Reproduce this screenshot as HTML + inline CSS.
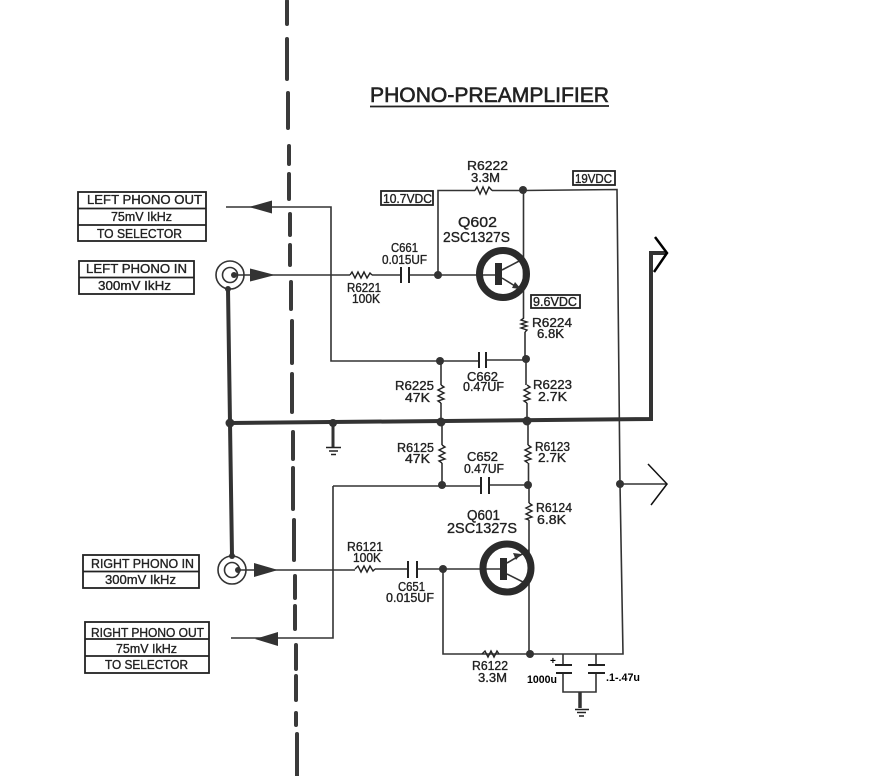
<!DOCTYPE html>
<html>
<head>
<meta charset="utf-8">
<style>
html,body{margin:0;padding:0;background:#fff}
svg{display:block}
text{font-family:"Liberation Sans",sans-serif;fill:#222;font-size:12.5px;stroke:#222;stroke-width:.35}
.l{fill:none;stroke:#333;stroke-width:1.6}
.t{fill:none;stroke:#333;stroke-width:4}
.z{fill:none;stroke:#222;stroke-width:1.4}
.b{fill:none;stroke:#222;stroke-width:1.8}
.d{fill:none;stroke:#3a3a3a;stroke-width:4;stroke-linecap:round}
.n{fill:#333}
.a{fill:#333}
.k{fill:none;stroke:#111;stroke-width:1.5}
.c{fill:none;stroke:#222;stroke-width:2}
.v{fill:none;stroke:#000;stroke-width:2.5}
</style>
</head>
<body>
<svg width="878" height="776" viewBox="0 0 878 776" xmlns="http://www.w3.org/2000/svg">
<rect width="878" height="776" fill="#fff"/>

<!-- dashed divider -->
<g class="d">
<path d="M287 1V24M287 39V79M288 93V128M289 146V164M289 174V199M290 214V235M290 245V265M291 282V309M292 321V363M292 374V412M293 432V459M293 468V509M294 520V560M295 576V598M295 606V629M296 645V669M296 676V700M296 713V725M297 734V776"/>
</g>

<!-- title -->
<text x="370" y="102" textLength="239" lengthAdjust="spacingAndGlyphs" style="font-size:21px;stroke-width:.6">PHONO-PREAMPLIFIER</text>
<line x1="370" y1="106.500" x2="609" y2="106" stroke="#222" stroke-width="1.800"/>

<!-- label boxes -->
<g class="b">
<rect x="78" y="192" width="128" height="49"/><path d="M78 208.500H206M78 225H206"/>
<rect x="79" y="261" width="115" height="33"/><path d="M79 277.500H194"/>
<rect x="83" y="555" width="116" height="33"/><path d="M83 571.500H199"/>
<rect x="85" y="622" width="124" height="51"/><path d="M85 639H209M85 656H209"/>
<rect x="381" y="191" width="52" height="14"/>
<rect x="573" y="171" width="42" height="14"/>
<rect x="531" y="295" width="49" height="13"/>
</g>

<!-- thin wires -->
<g class="l">
<path d="M226 207H331V361H440"/>
<path d="M234 275H350M372 275H401M409 275H438"/>
<path d="M438 275V190.500H475M492 190.500H523L617 189.500L620 484L623 654H443V569"/>
<path d="M438 275H495"/>
<path d="M523.500 190V318M525 332V359M526 359V385M527 403V421M528 421V445M528.500 463V485M529 485V503M529 520V654"/>
<path d="M440 361H479M486 360H526"/>
<path d="M441 361V385M441 403V422M442 422V445M442 463V485"/>
<path d="M333 486H442H481M489 485H528"/>
<path d="M333 486V638H231"/>
<path d="M238 570H355M375 569H408M417 569H443M443 569H500"/>
<path d="M502 270L523 259M502 278L523 291"/>
<path d="M507 563L529 550M507 574L529 585"/>
<path d="M620 484H667"/>
<path d="M563 654V665M596 654V665M563 673V692H596V673"/>
</g>

<!-- thick bus -->
<g class="t">
<path d="M230 423L651 419V253H666"/>
<path d="M228 289L230 423L232 556"/>
<path d="M333 424V447" stroke-width="3"/>
<path d="M580 692V708" stroke-width="3.500"/>
</g>

<!-- ground symbols -->
<path d="M326 447.500H341M329 451H338M331 454.500H336" stroke="#222" stroke-width="1.500" fill="none"/>
<path d="M575 709.500H589M577 712.500H586M579 716H584" stroke="#222" stroke-width="1.500" fill="none"/>

<!-- resistors -->
<g class="z">
<polyline points="350,275 352,272 355,278 358,272 361,278 364,272 367,278 370,273 372,275"/>
<polyline points="475,190.500 477,187 480,194 483,187 486,194 489,187 492,190.500"/>
<polyline points="355,569 358,566 361,572 364,566 367,572 370,566 373,571 375,569"/>
<polyline points="482,654 485,651 488,657 491,651 494,657 497,651 499,654"/>
<polyline points="524,318 521,320 527,322 521,324 527,326 521,328 527,330 525,332"/>
<polyline points="441,385 444,387 438,390 444,393 438,396 444,399 438,401 441,403"/>
<polyline points="527,385 530,387 524,390 530,393 524,396 530,399 524,401 527,403"/>
<polyline points="442,445 445,447 439,450 445,453 439,456 445,459 439,461 442,463"/>
<polyline points="528,445 531,447 525,450 531,453 525,456 531,459 525,461 528,463"/>
<polyline points="529,503 532,505 526,508 532,511 526,514 532,517 526,519 529,520"/>
</g>

<!-- capacitors -->
<g class="c">
<path d="M401 267V283M409 267V283"/>
<path d="M479 352V368M486 352V368"/>
<path d="M481 477V494M489 477V494"/>
<path d="M408 561V578M417 561V578"/>
<path d="M555 665H572M556 673H572M588 665H605M588 673H605"/>
</g>
<text x="550" y="664" style="font-size:10px;font-weight:bold;fill:#000;stroke:none">+</text>

<!-- transistors -->
<circle cx="503" cy="274" r="23.500" fill="none" stroke="#2b2b2b" stroke-width="7"/>
<rect x="495" y="263" width="7" height="22" fill="#2b2b2b"/>
<polygon class="a" points="521,289 512,288 515,282"/>
<circle cx="507" cy="568" r="24" fill="none" stroke="#2b2b2b" stroke-width="7"/>
<rect x="500" y="558" width="7" height="22" fill="#2b2b2b"/>
<polygon class="a" points="521,554 513,553 516,560"/>

<!-- connectors -->
<g fill="none" stroke="#333">
<circle cx="230" cy="275" r="14" stroke-width="1.600"/>
<circle cx="230" cy="275" r="7.500" stroke-width="1.600"/>
<circle cx="232" cy="570" r="14" stroke-width="1.600"/>
<circle cx="232" cy="570" r="7.500" stroke-width="1.600"/>
</g>

<!-- nodes -->
<g class="n">
<circle cx="234" cy="275" r="3"/><circle cx="228" cy="289" r="3"/>
<circle cx="238" cy="570" r="3"/><circle cx="232" cy="556" r="3"/>
<circle cx="230" cy="423" r="4.500"/><circle cx="333" cy="423" r="4"/>
<circle cx="441" cy="422" r="4.500"/><circle cx="527" cy="421" r="4.500"/>
<circle cx="438" cy="275" r="4"/><circle cx="523" cy="190" r="4"/>
<circle cx="440" cy="361" r="4"/><circle cx="526" cy="359" r="4"/>
<circle cx="442" cy="485" r="4"/><circle cx="528" cy="485" r="4"/>
<circle cx="620" cy="484" r="4"/>
<circle cx="443" cy="569" r="4"/><circle cx="530" cy="654" r="4"/>
</g>

<!-- arrows on signal lines -->
<g class="a">
<polygon points="249,207 272,200.500 272,213.500"/>
<polygon points="275,275 250,268.500 250,281.500"/>
<polygon points="278,570 254,563 254,577"/>
<polygon points="255,639 278,632 278,646"/>
</g>

<!-- hand drawn arrowheads -->
<polyline class="v" points="655,237 667,253 654,272"/>
<polyline class="k" points="648,464 667,484 651,505"/>

<!-- labels -->
<text x="87" y="204" textLength="115" lengthAdjust="spacingAndGlyphs">LEFT  PHONO OUT</text>
<text x="111" y="221" textLength="61" lengthAdjust="spacingAndGlyphs">75mV IkHz</text>
<text x="97" y="238" textLength="85" lengthAdjust="spacingAndGlyphs">TO SELECTOR</text>
<text x="86" y="273" textLength="101" lengthAdjust="spacingAndGlyphs">LEFT PHONO IN</text>
<text x="98" y="290" textLength="73" lengthAdjust="spacingAndGlyphs">300mV IkHz</text>
<text x="91" y="568" textLength="103" lengthAdjust="spacingAndGlyphs">RIGHT  PHONO IN</text>
<text x="105" y="584" textLength="71" lengthAdjust="spacingAndGlyphs">300mV IkHz</text>
<text x="91" y="637" textLength="113" lengthAdjust="spacingAndGlyphs">RIGHT  PHONO OUT</text>
<text x="116" y="653" textLength="61" lengthAdjust="spacingAndGlyphs">75mV IkHz</text>
<text x="105" y="669" textLength="83" lengthAdjust="spacingAndGlyphs">TO SELECTOR</text>

<text x="467" y="170" textLength="41" lengthAdjust="spacingAndGlyphs">R6222</text>
<text x="471" y="182" textLength="29" lengthAdjust="spacingAndGlyphs">3.3M</text>
<text x="383" y="203" textLength="49" lengthAdjust="spacingAndGlyphs">10.7VDC</text>
<text x="575" y="183" textLength="37" lengthAdjust="spacingAndGlyphs">19VDC</text>
<text x="458" y="227" textLength="39" lengthAdjust="spacingAndGlyphs" style="font-size:14.500px">Q602</text>
<text x="443" y="242" textLength="67" lengthAdjust="spacingAndGlyphs" style="font-size:14.500px">2SC1327S</text>
<text x="391" y="252" textLength="27" lengthAdjust="spacingAndGlyphs">C661</text>
<text x="382" y="264" textLength="45" lengthAdjust="spacingAndGlyphs">0.015UF</text>
<text x="347" y="292" textLength="34" lengthAdjust="spacingAndGlyphs">R6221</text>
<text x="352" y="303" textLength="28" lengthAdjust="spacingAndGlyphs">100K</text>
<text x="533" y="306" textLength="44" lengthAdjust="spacingAndGlyphs">9.6VDC</text>
<text x="532" y="327" textLength="40" lengthAdjust="spacingAndGlyphs">R6224</text>
<text x="537" y="338" textLength="27" lengthAdjust="spacingAndGlyphs">6.8K</text>
<text x="467" y="381" textLength="31" lengthAdjust="spacingAndGlyphs">C662</text>
<text x="463" y="391" textLength="41" lengthAdjust="spacingAndGlyphs">0.47UF</text>
<text x="395" y="390" textLength="39" lengthAdjust="spacingAndGlyphs">R6225</text>
<text x="405" y="402" textLength="25" lengthAdjust="spacingAndGlyphs">47K</text>
<text x="533" y="389" textLength="39" lengthAdjust="spacingAndGlyphs">R6223</text>
<text x="538" y="401" textLength="29" lengthAdjust="spacingAndGlyphs">2.7K</text>
<text x="397" y="452" textLength="37" lengthAdjust="spacingAndGlyphs">R6125</text>
<text x="405" y="463" textLength="25" lengthAdjust="spacingAndGlyphs">47K</text>
<text x="467" y="461" textLength="31" lengthAdjust="spacingAndGlyphs">C652</text>
<text x="464" y="473" textLength="40" lengthAdjust="spacingAndGlyphs">0.47UF</text>
<text x="535" y="451" textLength="35" lengthAdjust="spacingAndGlyphs">R6123</text>
<text x="538" y="462" textLength="28" lengthAdjust="spacingAndGlyphs">2.7K</text>
<text x="536" y="512" textLength="36" lengthAdjust="spacingAndGlyphs">R6124</text>
<text x="537" y="524" textLength="29" lengthAdjust="spacingAndGlyphs">6.8K</text>
<text x="467" y="520" textLength="33" lengthAdjust="spacingAndGlyphs" style="font-size:14.500px">Q601</text>
<text x="447" y="533" textLength="70" lengthAdjust="spacingAndGlyphs" style="font-size:14.500px">2SC1327S</text>
<text x="347" y="551" textLength="36" lengthAdjust="spacingAndGlyphs">R6121</text>
<text x="353" y="562" textLength="28" lengthAdjust="spacingAndGlyphs">100K</text>
<text x="398" y="591" textLength="27" lengthAdjust="spacingAndGlyphs">C651</text>
<text x="386" y="602" textLength="48" lengthAdjust="spacingAndGlyphs">0.015UF</text>
<text x="472" y="670" textLength="36" lengthAdjust="spacingAndGlyphs">R6122</text>
<text x="478" y="682" textLength="29" lengthAdjust="spacingAndGlyphs">3.3M</text>
<text x="527" y="683" textLength="30" lengthAdjust="spacingAndGlyphs" style="font-size:11px;font-weight:bold;fill:#000;stroke:none">1000u</text>
<text x="606" y="681" textLength="34" lengthAdjust="spacingAndGlyphs" style="font-size:11px;font-weight:bold;fill:#000;stroke:none">.1-.47u</text>
</svg>
</body>
</html>
